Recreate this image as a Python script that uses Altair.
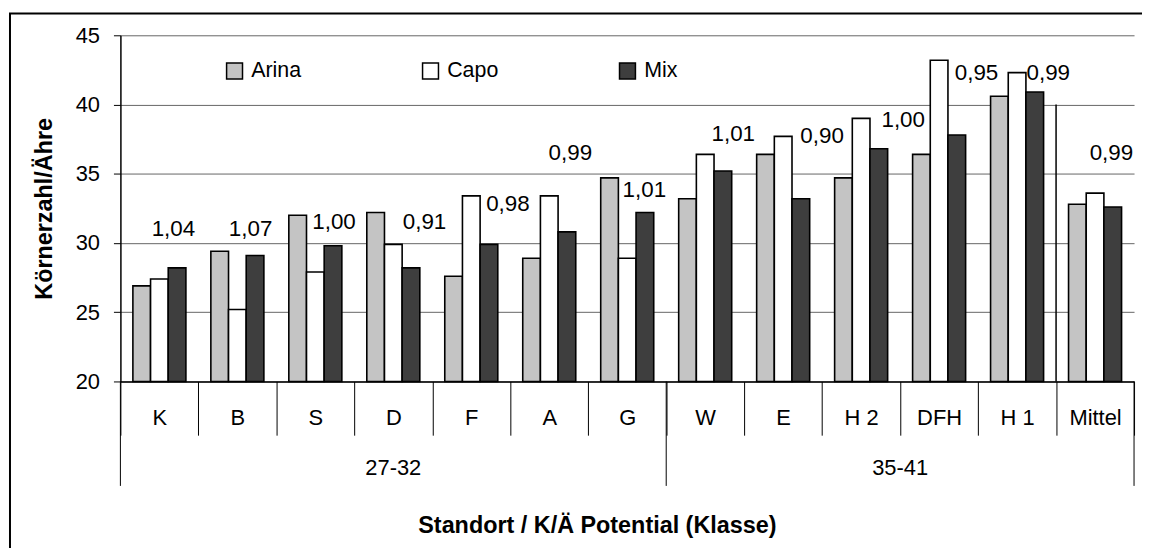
import altair as alt
import pandas as pd

# ---------------- data ----------------
categories = ["K", "B", "S", "D", "F", "A", "G", "W", "E", "H 2", "DFH", "H 1", "Mittel"]
classes = ["27-32"] * 7 + ["35-41"] * 6
series = ["Arina", "Capo", "Mix"]
arina = [26.9, 29.4, 32.0, 32.2, 27.6, 28.9, 34.7, 33.2, 36.4, 34.7, 36.4, 40.6, 32.8]
capo = [27.4, 25.2, 27.9, 29.9, 33.4, 33.4, 28.9, 36.4, 37.7, 39.0, 43.2, 42.3, 33.6]
mix = [28.2, 29.1, 29.8, 28.2, 29.9, 30.8, 32.2, 35.2, 33.2, 36.8, 37.8, 40.9, 32.6]
ratios = ["1,04", "1,07", "1,00", "0,91", "0,98", "0,99", "1,01",
          "1,01", "0,90", "1,00", "0,95", "0,99", "0,99"]
# where each ratio label sits: height in axis units, across as fraction of the category band
label_y = [31.0, 31.0, 31.5, 31.5, 32.8, 36.5, 33.8, 37.9, 37.7, 38.9, 42.3, 42.3, 36.5]
label_x = [0.68, 0.67, 0.74, 0.90, 0.97, 0.77, 0.72, 0.86, 1.00, 1.04, 0.98, 0.90, 0.71]
colors = ["#c4c4c4", "#ffffff", "#3e3e3e"]

# ---------------- tables ----------------
rows = []
for i, c in enumerate(categories):
    for s, vals in zip(series, [arina, capo, mix]):
        rows.append({"Standort": c, "Sorte": s, "Wert": vals[i]})
bars_df = pd.DataFrame(rows)
labels_df = pd.DataFrame({"Standort": categories, "Text": ratios, "Wert": label_y, "lx": label_x})

group_names = list(dict.fromkeys(classes))
bounds = []
grp_rows = []
for g in group_names:
    idx = [i for i, k in enumerate(classes) if k == g]
    bounds.append({"Standort": categories[idx[0]], "f": 0.0})
    mid = (idx[0] + idx[-1]) / 2.0
    base = int(mid)
    grp_rows.append({"Standort": categories[base] if mid == base else categories[base + 1],
                     "f": 0.5 if mid == base else 0.0, "Klasse": g})
bounds.append({"Standort": categories[-1], "f": 1.0})
bounds_df = pd.DataFrame(bounds)
groups_df = pd.DataFrame(grp_rows)

W, H = 1019, 348
FONT = "Liberation Sans"

x_scale = alt.Scale(domain=categories, paddingInner=0, paddingOuter=0)
y_scale = alt.Scale(domain=[20, 45], nice=False, zero=False)
frac_scale = alt.Scale(domain=[0, 1], nice=False, zero=False)

x_axis = alt.Axis(
    labelAngle=0, tickBand="extent", tickSize=54, tickColor="black", tickWidth=1,
    domainColor="black", domainWidth=1.5, labelFontSize=22, labelColor="black",
    labelBaseline="middle", labelPadding=-18, grid=False,
    title="Standort / K/Ä Potential (Klasse)", titleFontSize=23.5, titleFontWeight="bold",
    titleColor="black", titleX=479, titleY=145, titleBaseline="middle",
)
y_axis = alt.Axis(
    values=[20, 25, 30, 35, 40, 45], tickSize=7, tickColor="black", labelPadding=14,
    labelFontSize=22, labelColor="black", grid=True, gridColor="#666666", gridWidth=1,
    domainColor="black", domainWidth=1.5,
    title="Körnerzahl/Ähre", titleFontSize=23.5, titleFontWeight="bold", titleColor="black",
    titleX=-76, titleY=174, titleBaseline="middle",
)


def xenc():
    return alt.X("Standort:N", sort=categories, scale=x_scale, axis=x_axis)


frame = alt.Chart(pd.DataFrame({"a": [0]})).mark_rect(
    fillOpacity=0, stroke="black", strokeWidth=2
).encode(x=alt.value(-111), x2=alt.value(1200), y=alt.value(-22), y2=alt.value(700))

bars = alt.Chart(bars_df).mark_bar(stroke="black", strokeWidth=1.6).encode(
    x=xenc(),
    xOffset=alt.XOffset("Sorte:N", sort=series,
                        scale=alt.Scale(domain=series, paddingInner=0, paddingOuter=0.706)),
    y=alt.Y("Wert:Q", scale=y_scale, axis=y_axis),
    y2=alt.datum(20),
    color=alt.Color("Sorte:N", sort=series,
                    scale=alt.Scale(domain=series, range=colors),
                    legend=alt.Legend(orient="none", legendX=104, legendY=25,
                                      direction="horizontal", title=None,
                                      symbolType="square", symbolSize=256,
                                      symbolStrokeColor="black", symbolStrokeWidth=1.5,
                                      symbolOpacity=1, labelFontSize=21.5, labelColor="black",
                                      labelOffset=6, columnPadding=118, padding=0)),
)

labels = alt.Chart(labels_df).mark_text(fontSize=22.5, color="black", baseline="middle",
                                        align="center").encode(
    x=xenc(),
    xOffset=alt.XOffset("lx:Q", scale=frac_scale),
    y=alt.Y("Wert:Q", scale=y_scale, axis=y_axis),
    text="Text:N",
)

group_lines = alt.Chart(bounds_df).mark_rule(color="black", strokeWidth=1).encode(
    x=xenc(),
    xOffset=alt.XOffset("f:Q", scale=frac_scale),
    y=alt.value(H), y2=alt.value(H + 105),
)

group_text = alt.Chart(groups_df).mark_text(fontSize=22, color="black", baseline="middle",
                                            align="center").encode(
    x=xenc(),
    xOffset=alt.XOffset("f:Q", scale=frac_scale),
    y=alt.value(H + 87.5),
    text="Klasse:N",
)

mittel_line = alt.Chart(pd.DataFrame({"Standort": [categories[-1]], "Wert": [40], "Basis": [20]})).mark_rule(
    color="black", strokeWidth=1.5
).encode(
    x=alt.X("Standort:N", sort=categories, scale=x_scale, axis=x_axis, bandPosition=0),
    y=alt.Y("Wert:Q", scale=y_scale, axis=y_axis), y2="Basis:Q",
)

chart = alt.layer(frame, bars, labels, group_lines, group_text, mittel_line).resolve_scale(
    xOffset="independent"
).properties(
    width=W, height=H,
    autosize=alt.AutoSizeParams(type="none"),
    padding={"left": 113, "top": 26, "right": 8, "bottom": 166},
).configure(font=FONT).configure_view(stroke="transparent")

chart.save("out.html", embed_options={"renderer": "svg", "actions": False})
